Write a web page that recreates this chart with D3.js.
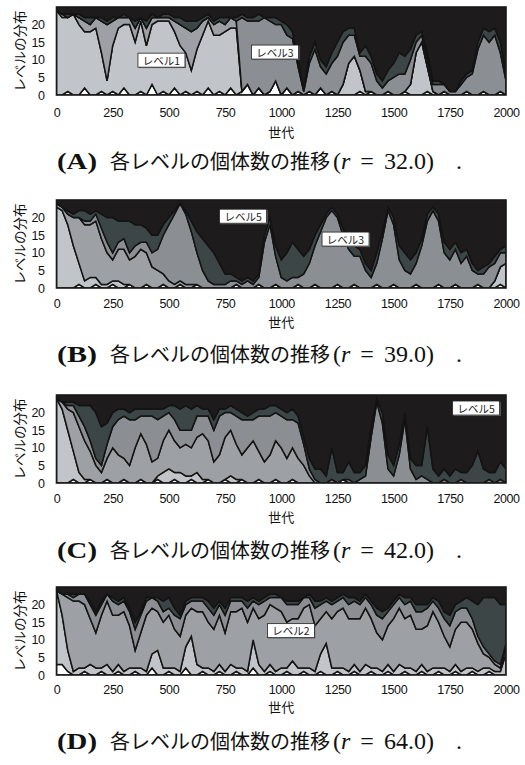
<!DOCTYPE html>
<html>
<head>
<meta charset="utf-8">
<script src="https://cdnjs.cloudflare.com/ajax/libs/d3/7.8.5/d3.min.js"></script>
<style>
  body { margin: 0; background: #fff; }
</style>
</head>
<body>
<div class="chart"></div>
<script>
// generations sampled every 25 steps
const GENS = d3.range(0, 2001, 25);
const X_TICKS = [0, 250, 500, 750, 1000, 1250, 1500, 1750, 2000];
const Y_TICKS = [0, 5, 10, 15, 20];
const LEVELS = ["レベル0", "レベル1", "レベル2", "レベル3", "レベル4", "レベル5"];

// counts per level [L0, L1, L2, L3, L4, L5] at each sampled generation
const countsA = [
  [0,24,0,0,0,1],[0,22,1,0,0,2],[1,21,0,0,1,2],[0,23,0,0,0,2],[0,20,2,0,1,2],
  [2,16,3,0,1,3],[0,18,2,0,2,3],[0,19,3,0,0,3],[1,11,9,0,1,3],[0,4,16,0,1,4],
  [1,13,7,0,1,3],[0,19,3,0,0,3],[2,18,2,0,1,2],[0,20,2,0,0,3],[0,15,4,0,2,4],
  [1,20,1,0,0,3],[0,14,5,0,2,4],[3,17,2,0,1,2],[0,21,1,0,0,3],[1,20,1,0,1,2],
  [0,21,1,0,1,2],[2,16,3,0,1,3],[0,14,6,0,2,3],[1,11,7,0,2,4],[0,7,11,0,3,4],
  [1,12,6,0,2,4],[0,17,4,0,1,3],[2,19,1,0,1,2],[0,17,3,0,1,4],[1,16,4,0,1,3],
  [0,18,2,0,2,3],[2,17,3,0,0,3],[0,19,2,0,1,3],[1,0,0,21,1,2],[3,0,0,18,1,3],
  [0,0,0,21,1,3],[2,0,0,19,2,2],[0,0,0,22,0,3],[1,0,0,20,1,3],[4,0,0,16,2,3],
  [0,0,0,20,1,4],[2,0,0,15,3,5],[0,0,0,16,2,7],[1,0,0,7,2,15],[0,0,0,1,1,23],
  [1,0,0,8,2,14],[0,0,0,13,2,10],[2,0,0,6,2,15],[0,0,0,6,2,17],[1,0,0,8,3,13],
  [0,0,0,11,4,10],[0,3,0,12,3,7],[0,9,0,8,2,6],[0,11,0,6,2,6],[1,6,0,4,1,13],
  [0,1,0,10,3,11],[1,0,0,8,2,14],[0,0,0,4,2,19],[0,0,0,2,2,21],[1,0,0,3,3,18],
  [0,0,0,5,4,16],[0,0,0,6,6,13],[1,0,0,5,5,14],[0,3,0,7,3,12],[0,12,0,3,2,8],
  [0,15,0,2,1,7],[1,7,0,2,2,13],[0,1,0,2,1,21],[0,0,0,3,1,21],[1,0,0,2,0,22],
  [0,0,0,1,0,24],[0,0,0,1,0,24],[0,0,0,3,1,21],[1,0,0,4,1,19],[0,0,0,6,1,18],
  [0,0,0,13,2,10],[1,0,0,16,2,6],[0,0,0,15,3,7],[0,0,0,17,2,6],[1,0,0,11,3,10],
  [0,0,0,4,2,19]
];

const countsB = [
  [0,23,1,0,0,1],[0,22,1,0,0,2],[0,18,3,0,1,3],[0,12,8,0,1,4],[1,6,13,0,2,3],
  [0,2,16,1,3,3],[0,3,15,1,2,4],[1,2,16,2,1,3],[0,1,13,3,4,4],[0,1,9,3,7,5],
  [1,1,6,2,10,5],[0,2,9,2,6,6],[0,1,10,3,5,6],[1,0,7,2,9,6],[0,0,9,3,6,7],
  [0,0,11,2,5,7],[1,0,9,3,4,8],[0,0,6,4,5,10],[0,0,5,6,4,10],[1,0,3,11,3,7],
  [0,0,2,16,2,5],[0,0,1,20,1,3],[1,0,1,22,0,1],[0,0,1,20,1,3],[0,0,1,15,3,6],
  [1,0,0,9,6,9],[0,0,0,5,9,11],[0,0,0,2,10,13],[0,0,0,1,9,15],[0,0,0,1,6,18],
  [0,0,0,1,3,21],[0,0,0,2,2,21],[1,0,0,1,1,22],[0,0,0,1,1,23],[0,0,0,2,1,22],
  [0,0,0,1,1,23],[1,0,0,2,1,21],[0,0,0,13,2,10],[0,0,0,18,2,5],[1,0,0,8,3,13],
  [0,0,0,3,5,17],[0,0,0,2,8,15],[0,0,0,3,10,12],[1,0,0,2,8,14],[0,0,0,4,5,16],
  [0,0,0,7,4,14],[1,0,0,11,3,10],[0,0,0,16,2,7],[0,0,0,20,1,4],[0,0,0,22,1,2],
  [1,0,0,19,1,4],[0,0,0,15,2,8],[0,0,0,11,2,12],[1,0,0,8,3,13],[0,0,0,9,2,14],
  [0,0,0,5,2,18],[0,0,0,3,2,20],[1,0,0,6,3,15],[0,0,0,14,2,9],[0,0,0,22,1,2],
  [1,0,0,17,2,5],[0,0,0,8,4,13],[0,0,0,5,5,15],[0,0,0,4,4,17],[1,0,0,6,3,15],
  [0,0,0,12,2,11],[0,0,0,19,2,4],[0,0,0,22,1,2],[1,0,0,18,2,4],[0,0,0,10,3,12],
  [0,0,0,8,3,14],[1,0,0,10,2,12],[0,0,0,7,3,15],[0,0,0,9,2,14],[0,0,0,5,2,18],
  [1,0,0,3,1,20],[0,0,0,4,2,19],[0,0,0,6,1,18],[0,2,0,5,2,16],[1,5,0,4,1,14],
  [0,7,0,3,2,13]
];

const countsC = [
  [0,24,0,0,0,1],[0,21,2,0,0,2],[0,15,6,1,1,2],[1,8,11,2,1,2],[0,3,13,3,3,3],
  [0,1,11,4,6,3],[1,0,8,3,10,3],[0,0,5,2,13,5],[0,0,3,2,11,9],[1,0,6,4,6,8],
  [0,0,10,6,4,5],[0,0,8,10,3,4],[1,0,6,12,2,4],[0,0,5,13,2,5],[0,0,10,8,3,4],
  [1,0,13,5,2,4],[0,0,11,8,2,4],[0,0,6,13,2,4],[1,1,5,11,3,4],[0,3,9,7,2,4],
  [0,4,11,5,2,3],[1,2,9,6,4,3],[0,3,7,5,6,4],[0,2,9,4,7,3],[1,1,8,5,6,4],
  [0,3,10,6,3,3],[0,1,13,5,2,4],[1,0,11,7,2,4],[0,0,6,9,3,7],[0,0,8,11,2,4],
  [1,0,12,7,1,4],[0,2,13,5,2,3],[0,1,10,8,2,4],[1,0,7,10,2,5],[0,0,10,8,1,6],
  [0,0,12,6,2,5],[1,0,8,10,2,4],[0,0,6,13,2,4],[0,0,8,11,3,3],[1,0,11,8,2,3],
  [0,0,10,9,2,4],[0,0,7,11,2,5],[1,0,9,8,3,4],[0,0,7,10,2,6],[0,0,5,6,2,12],
  [0,0,2,2,3,18],[0,0,0,1,3,21],[0,0,0,0,4,21],[0,0,0,0,2,23],[0,0,0,1,9,15],
  [0,0,0,0,3,22],[1,0,0,0,2,22],[0,0,0,1,5,19],[0,0,0,0,3,22],[0,0,0,1,2,22],
  [0,0,0,2,3,20],[0,0,0,13,3,9],[0,0,0,23,1,1],[0,0,0,17,3,5],[0,0,0,4,4,17],
  [0,0,0,2,3,20],[0,0,0,8,3,14],[0,0,0,18,2,5],[0,0,0,4,3,18],[0,0,0,1,4,20],
  [0,0,0,2,3,20],[0,0,0,1,15,9],[0,0,0,0,4,21],[0,0,0,0,2,23],[0,0,0,1,3,21],
  [0,0,0,0,2,23],[0,0,0,0,4,21],[0,0,0,1,2,22],[0,0,0,0,3,22],[0,0,0,0,5,20],
  [0,0,0,0,9,16],[0,0,0,0,4,21],[0,0,0,1,2,22],[0,0,0,0,3,22],[0,0,0,1,5,19],
  [0,0,0,0,4,21]
];

const countsD = [
  [3,21,0,0,0,1],[3,14,6,0,0,2],[1,6,15,1,0,2],[0,1,20,1,1,2],[0,2,19,2,0,2],
  [1,1,18,3,0,2],[0,3,13,4,1,4],[0,2,10,5,1,7],[1,1,15,3,1,4],[0,3,18,2,0,2],
  [0,1,16,4,1,3],[1,2,14,3,1,4],[0,1,17,3,1,3],[0,2,12,4,1,6],[1,1,5,6,2,10],
  [0,2,10,5,1,7],[0,1,16,4,1,3],[2,4,13,3,0,3],[0,7,11,3,1,3],[0,2,13,3,3,4],
  [1,1,15,2,3,3],[0,2,11,4,2,6],[0,1,10,5,1,8],[2,6,9,3,1,4],[0,11,8,2,1,3],
  [0,3,15,3,1,3],[1,1,16,3,1,3],[0,2,13,4,2,4],[0,1,12,4,2,6],[1,2,14,3,1,4],
  [0,1,11,5,2,6],[0,3,15,3,1,3],[1,1,16,3,1,3],[0,2,17,2,1,3],[0,1,14,4,2,4],
  [2,8,9,2,1,3],[0,3,13,4,1,4],[0,1,16,4,1,3],[1,2,17,2,1,2],[0,1,18,3,1,2],
  [0,2,16,4,0,3],[1,1,13,5,1,4],[0,4,12,4,1,4],[0,2,14,4,1,4],[1,1,17,3,0,3],
  [0,2,18,2,1,2],[0,1,13,5,2,4],[1,5,10,4,1,4],[0,9,9,3,1,3],[0,2,14,4,1,4],
  [1,1,16,3,1,3],[0,2,17,3,1,2],[0,1,15,4,2,3],[1,2,13,5,1,3],[0,1,15,4,1,4],
  [0,3,16,3,1,2],[1,1,14,4,1,4],[0,2,10,5,2,6],[0,1,9,6,2,7],[1,2,11,4,1,6],
  [0,1,15,4,1,4],[0,3,16,3,1,2],[1,1,14,4,2,3],[0,2,15,4,1,3],[0,1,12,5,2,5],
  [1,2,10,5,2,5],[0,1,13,5,1,5],[0,2,16,3,1,3],[1,1,13,4,2,4],[0,2,9,5,2,7],
  [0,1,7,6,3,8],[1,2,10,5,2,5],[0,1,14,4,2,4],[0,2,13,4,3,3],[1,1,11,3,5,4],
  [0,1,8,2,9,5],[0,2,4,2,14,3],[1,1,3,1,16,3],[0,1,2,1,18,3],[0,1,1,1,17,5],
  [0,6,2,1,11,5]
];

// panel letters, r values and in-plot level labels [text, generation, count]
const PANEL_IDS = ["A", "B", "C", "D"];
const R_VALUES = ["32.0", "39.0", "42.0", "64.0"];
const labelsA = [["レベル1", 467, 9.9], ["レベル3", 972, 12.2]];
const labelsB = [["レベル5", 830, 20.4], ["レベル3", 1286, 13.9]];
const labelsC = [["レベル5", 1867, 21.3]];
const labelsD = [["レベル2", 1043, 12.6]];

// styles / layout
const LEVEL_COLORS = ["#ffffff", "#c1c5c9", "#9da1a6", "#8b8f94", "#3d4646", "#1d1b1c"];
const width = 525, height = 765;
const plotH = 88;
const tops = [7, 200, 395, 587];
const tickY = [113, 304, 499, 690];
const titleY = [131, 321, 516, 706];
const captionY = [169, 362, 558, 749];

const svg = d3.select(".chart").append("svg").attr("width", width).attr("height", height);

const x = d3.scaleLinear().domain([0, 2000]).range([56.5, 506]);
const y = d3.scaleLinear().domain([0, 25]).range([plotH, 0]);

const stack = d3.stack().keys(d3.range(LEVELS.length)).value((d, k) => d.c[k]);
const area = d3.area()
  .x((d) => x(d.data.gen))
  .y0((d) => y(d[0]))
  .y1((d) => y(d[1]));

const allCounts = [countsA, countsB, countsC, countsD];
const allLabels = [labelsA, labelsB, labelsC, labelsD];

allCounts.forEach((counts, p) => {
  const g = svg.append("g").attr("transform", `translate(0, ${tops[p]})`);
  const clipId = `clip${p}`;
  g.append("clipPath").attr("id", clipId)
    .append("rect").attr("x", x(0)).attr("y", 0).attr("width", x(2000) - x(0)).attr("height", plotH);

  const series = stack(counts.map((c, i) => ({ gen: GENS[i], c })));

  g.append("g").attr("clip-path", `url(#${clipId})`)
    .selectAll("path")
    .data(series)
    .join("path")
    .attr("d", area)
    .attr("fill", (d, i) => LEVEL_COLORS[i])
    .attr("stroke", "#131313")
    .attr("stroke-width", 1.5);

  // frame
  g.append("rect")
    .attr("x", x(0)).attr("y", 0)
    .attr("width", x(2000) - x(0)).attr("height", plotH)
    .attr("fill", "none").attr("stroke", "#1a1a1a").attr("stroke-width", 1.6);

  // axes
  const yAxis = g.append("g")
    .attr("transform", `translate(${x(0) - 12}, 0)`)
    .call(d3.axisLeft(y).tickValues(Y_TICKS).tickSize(0).tickPadding(0));
  const xAxis = g.append("g")
    .attr("transform", `translate(0, ${plotH})`)
    .call(d3.axisBottom(x).tickValues(X_TICKS).tickFormat(d3.format("d"))
      .tickSize(0).tickPadding(tickY[p] - tops[p] - plotH - 4.5));
  [yAxis, xAxis].forEach((a) => {
    a.select(".domain").remove();
    a.selectAll("text")
      .attr("font-family", "'Liberation Sans', Arial, sans-serif")
      .attr("font-size", 12.5)
      .attr("letter-spacing", -0.4)
      .attr("fill", "#111");
  });

  g.append("text")
    .attr("transform", `translate(19, ${plotH / 2}) rotate(-90)`)
    .attr("text-anchor", "middle")
    .attr("dominant-baseline", "central")
    .attr("font-family", "'Noto Sans CJK JP', sans-serif")
    .attr("font-size", 13.5)
    .attr("fill", "#111")
    .text("レベルの分布");

  svg.append("text")
    .attr("x", (x(0) + x(2000)) / 2)
    .attr("y", titleY[p])
    .attr("text-anchor", "middle")
    .attr("dominant-baseline", "central")
    .attr("font-family", "'Noto Sans CJK JP', sans-serif")
    .attr("font-size", 13)
    .attr("fill", "#111")
    .text("世代");

  // level labels inside the plot
  const lab = g.selectAll("g.lab")
    .data(allLabels[p])
    .join("g")
    .attr("class", "lab")
    .attr("transform", (d) => `translate(${x(d[1])}, ${y(d[2])})`);
  lab.append("rect")
    .attr("x", -22.5).attr("y", -6).attr("width", 47).attr("height", 14)
    .attr("fill", "#777");
  lab.append("rect")
    .attr("x", -23.5).attr("y", -7).attr("width", 47).attr("height", 14)
    .attr("fill", "#fff").attr("stroke", "#222").attr("stroke-width", 0.8);
  lab.append("text")
    .attr("text-anchor", "middle")
    .attr("dominant-baseline", "central")
    .attr("font-family", "'Noto Sans CJK JP', sans-serif")
    .attr("font-size", 10.5)
    .attr("fill", "#222")
    .text((d) => d[0]);

  // caption
  const cy = captionY[p];
  svg.append("text")
    .attr("x", 57).attr("y", cy)
    .attr("font-family", "'Liberation Serif', serif")
    .attr("font-weight", "bold")
    .attr("font-size", 23)
    .attr("textLength", 40)
    .attr("lengthAdjust", "spacingAndGlyphs")
    .attr("fill", "#111")
    .text(`(${PANEL_IDS[p]})`);
  svg.append("text")
    .attr("x", 110).attr("y", cy)
    .attr("font-family", "'Noto Sans CJK JP', sans-serif")
    .attr("font-size", 20)
    .attr("fill", "#111")
    .text("各レベルの個体数の推移");
  const m = svg.append("text")
    .attr("x", 333).attr("y", cy)
    .attr("font-family", "'Liberation Serif', serif")
    .attr("font-size", 24)
    .attr("fill", "#111");
  m.append("tspan").text("(");
  m.append("tspan").attr("font-style", "italic").text("r");
  m.append("tspan").attr("dx", 10).text("=");
  m.append("tspan").attr("dx", 10).text(`${R_VALUES[p]})`);
  svg.append("text")
    .attr("x", 456).attr("y", cy)
    .attr("font-family", "'Liberation Serif', serif")
    .attr("font-size", 24)
    .attr("fill", "#111")
    .text(".");
});
</script>
</body>
</html>
